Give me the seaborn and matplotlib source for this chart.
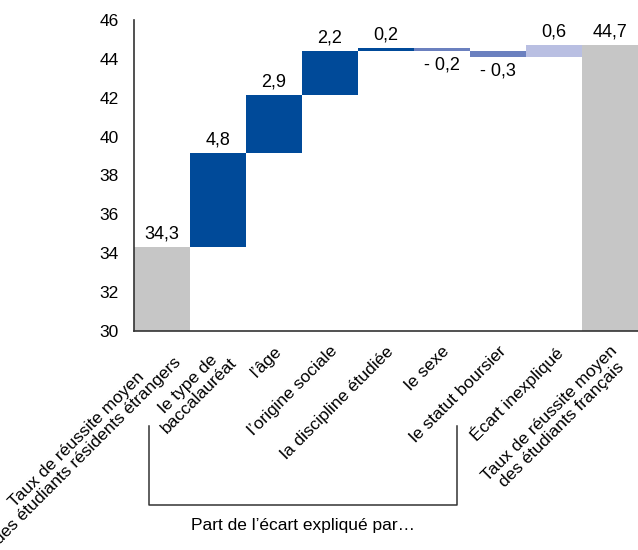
import numpy as np
import pandas as pd
import seaborn as sns
import matplotlib.pyplot as plt
import matplotlib.transforms as mtransforms

categories = [
    "Taux de réussite moyen\ndes étudiants résidents étrangers",
    "le type de\nbaccalauréat",
    "l’âge",
    "l’origine sociale",
    "la discipline étudiée",
    "le sexe",
    "le statut boursier",
    "Écart inexpliqué",
    "Taux de réussite moyen\ndes étudiants français",
]
start_rate = 34.3
end_rate = 44.7
# contributions as drawn (displayed labels are rounded)
contributions = [4.86, 2.97, 2.25, 0.17, -0.17, -0.30, 0.62]
value_labels = ["34,3", "4,8", "2,9", "2,2", "0,2", "- 0,2", "- 0,3", "0,6", "44,7"]
colors = ["#c6c6c6", "#004a99", "#004a99", "#004a99", "#004a99",
          "#6b80bf", "#6b80bf", "#b9bfe2", "#c6c6c6"]

y_min = 30
cum = start_rate + np.cumsum(contributions)
prev = np.concatenate([[start_rate], cum[:-1]])
bottoms = [y_min] + list(prev) + [y_min]
heights = [start_rate - y_min] + contributions + [end_rate - y_min]

df = pd.DataFrame({"cat": categories, "height": heights})

plt.rcParams["font.family"] = ["Liberation Sans", "DejaVu Sans"]
fig = plt.figure(figsize=(6.38, 5.5), dpi=100)
ax = fig.add_axes([0.21, 0.398, 0.79, 0.566])

sns.barplot(data=df, x="cat", y="height", order=categories, bottom=bottoms,
            width=1.0, color="#c6c6c6", ax=ax, linewidth=0)
for patch, c in zip(ax.patches, colors):
    patch.set_facecolor(c)
    patch.set_edgecolor(c)

for i, (b, h, lab) in enumerate(zip(bottoms, heights, value_labels)):
    top = b + h
    if h >= 0:
        ax.text(i, max(b, top) + 0.25, lab, ha="center", va="bottom", fontsize=13)
    else:
        ax.text(i, min(b, top) - 0.25, lab, ha="center", va="top", fontsize=13)

ax.set_ylim(30, 46)
ax.set_xlim(-0.5, 8.5)
ax.set_yticks(range(30, 47, 2))
ax.tick_params(axis="y", length=0, labelsize=12.5, pad=11)
ax.tick_params(axis="x", length=0, pad=9)
ax.set_xticks(range(len(categories)))
ax.set_xticklabels(categories, rotation=45, ha="right", rotation_mode="anchor",
                   fontsize=12.5, multialignment="center", linespacing=1.05)
ax.set_xlabel("")
ax.set_ylabel("")
for s in ["top", "right"]:
    ax.spines[s].set_visible(False)
for s in ["left", "bottom"]:
    ax.spines[s].set_color("#333333")
    ax.spines[s].set_linewidth(1.2)

trans = mtransforms.blended_transform_factory(ax.transData, ax.transAxes)
x0, x1 = -0.23, 5.27
ax.plot([x0, x0, x1, x1], [-0.305, -0.56, -0.56, -0.305], color="#333333",
        lw=1.1, transform=trans, clip_on=False)
ax.text((x0 + x1) / 2, -0.624, "Part de l’écart expliqué par…", ha="center",
        va="center", fontsize=12.5, transform=trans)

fig.savefig("out.png", dpi=100)
